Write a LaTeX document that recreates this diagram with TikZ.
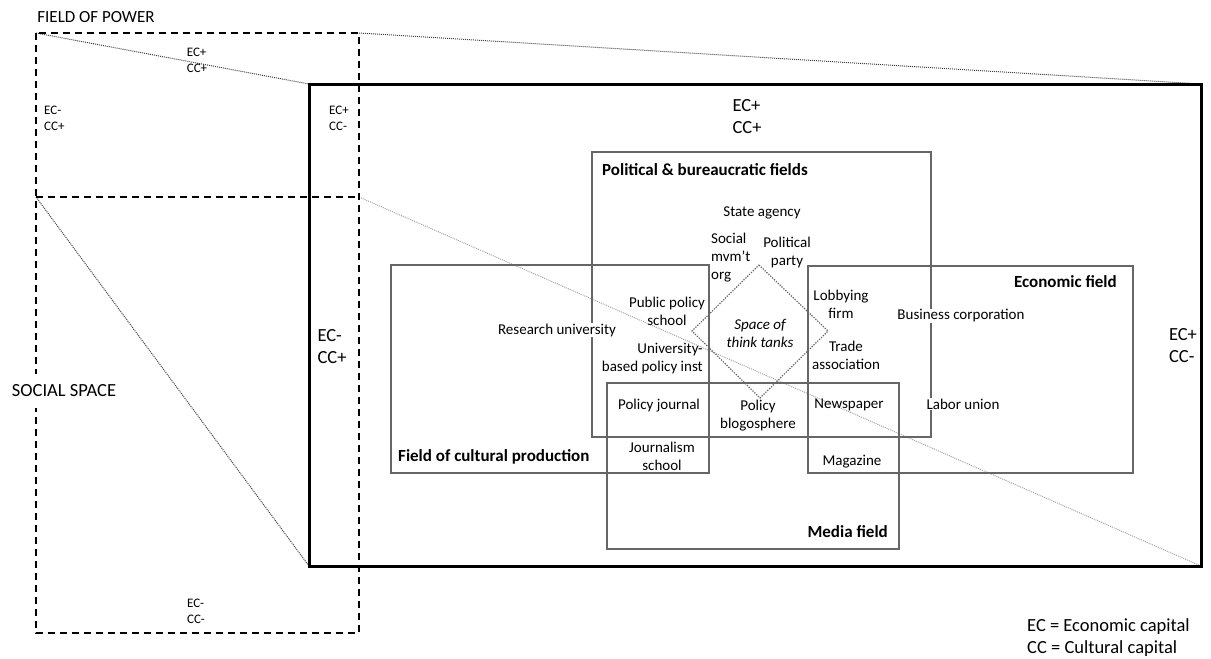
\documentclass[tikz,border=0pt]{standalone}
\usepackage{fontspec}
\setmainfont{Carlito}
\usetikzlibrary{positioning}

\begin{document}
\begin{tikzpicture}[x=1pt,y=-1pt,line join=miter,
  lbl/.style={align=center,inner sep=1pt,font=\fontsize{15}{18}\selectfont},
  ecsmall/.style={align=left,inner sep=1pt,font=\fontsize{13}{16}\selectfont},
  ecbig/.style={align=left,inner sep=1pt,font=\fontsize{18.5}{22}\selectfont},
  fieldtitle/.style={inner sep=1pt,font=\fontsize{17}{20}\selectfont\bfseries},
  field/.style={draw=black!60,line width=1.3pt},
  dashbox/.style={line width=2pt,dash pattern=on 7pt off 5pt},
  proj/.style={black!75,line width=1pt,dash pattern=on 1pt off 1pt}]
  \useasboundingbox (0,0) rectangle (1211,659);
  % corners of social space / field of power / zoomed field of power
  \coordinate (fpNW) at (36,33);   \coordinate (fpNE) at (359,33);
  \coordinate (fpSW) at (36,197);  \coordinate (fpSE) at (359,197);
  \coordinate (ssSE) at (359,633);
  \coordinate (zNW) at (309,84);   \coordinate (zNE) at (1201,84);
  \coordinate (zSW) at (309,566);  \coordinate (zSE) at (1201,566);
  % projection lines (zoom)
  \draw[proj] (fpNW) -- (zNW);
  \draw[proj] (fpNE) -- (zNE);
  \draw[proj] (fpSW) -- (zSW);
  \draw[proj,black!35] (fpSE) -- (zSE);
  % social space and field of power
  \draw[dashbox] (fpNW) rectangle (ssSE);
  \draw[dashbox] (fpSW) -- (fpSE);
  \draw[line width=3pt] (zNW) rectangle (zSE);
  % the fields
  \draw[field] (592,152) rectangle (931,437);
  \draw[field] (391,265) rectangle (709,473);
  \draw[field] (808,266) rectangle (1133,473);
  \draw[field] (607,383) rectangle (899,549);
  % space of think tanks
  \coordinate (dT) at (759,265); \coordinate (dR) at (828,331);
  \coordinate (dB) at (760,398); \coordinate (dL) at (692,331);
  \draw[black!60,line width=1.2pt,dash pattern=on 1.3pt off 1.3pt] (dT) -- (dR) -- (dB) -- (dL) -- cycle;
  % outer labels
  \node[inner sep=1pt,font=\fontsize{17}{20}\selectfont] (fop) at (96,17) {FIELD OF POWER};
  \node[fill=white,inner xsep=2pt,inner ysep=11pt,font=\fontsize{18.5}{22}\selectfont] (socsp) at (64,391) {SOCIAL SPACE};
  \node[align=left,anchor=north west,inner sep=1pt,font=\fontsize{18.5}{22}\selectfont] (legend) at (1026,617) {EC = Economic capital\\CC = Cultural capital};
  \node[ecsmall] (ecTop) at (197,60) {EC+\\CC+};
  \node[ecsmall,anchor=west] (ecLeft) at (43,118) {EC-\\CC+};
  \node[ecsmall] (ecRight) at (339,118) {EC+\\CC-};
  \node[ecsmall] (ecBottom) at (196,611) {EC-\\CC-};
  \node[ecbig] (zTop) at (747,117) {EC+\\CC+};
  \node[ecbig] (zLeft) at (332,347) {EC-\\CC+};
  \node[ecbig] (zRight) at (1183,346) {EC+\\CC-};
  % field titles
  \node[fieldtitle,anchor=west] (polT) at (601,170) {Political \& bureaucratic fields};
  \node[fieldtitle,anchor=west] (cultT) at (397,457) {Field of cultural production};
  \node[fieldtitle,anchor=east] (econT) at (1118,282) {Economic field};
  \node[fieldtitle,anchor=east] (mediaT) at (889,532) {Media field};
  % organisations
  \node[lbl] (state) at (762,213) {State agency};
  \node[lbl,align=left,anchor=west] (social) at (710,258) {Social\\mvm't\\org};
  \node[lbl] (party) at (787,252) {Political\\party};
  \node[lbl] (pps) at (667,311) {Public policy\\school};
  \node[lbl,align=right,anchor=east] (ubpi) at (704,359) {University-\\based policy inst};
  \node[lbl,font=\fontsize{15}{18}\selectfont\itshape] (tt) at (760,333) {Space of\\think tanks};
  \node[lbl] (lobby) at (841,304) {Lobbying\\firm};
  \node[lbl] (trade) at (846,355) {Trade\\association};
  \node[lbl,fill=white] (biz) at (961,316) {Business corporation};
  \node[lbl,fill=white] (resu) at (557,330) {Research university};
  \node[lbl] (polj) at (659,406) {Policy journal};
  \node[lbl] (blog) at (758,416) {Policy\\blogosphere};
  \node[lbl] (news) at (849,405) {Newspaper};
  \node[lbl,fill=white] (labor) at (963,404) {Labor union};
  \node[lbl] (jschool) at (662,456) {Journalism\\school};
  \node[lbl] (mag) at (852,462) {Magazine};
\end{tikzpicture}
\end{document}
